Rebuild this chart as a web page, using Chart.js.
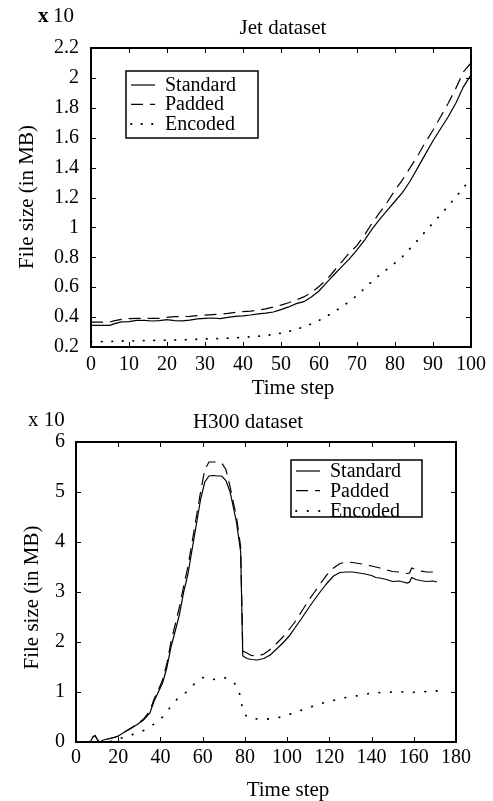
<!DOCTYPE html>
<html lang="en">
<head>
<meta charset="UTF-8">
<title>Jet and H300 file sizes</title>
<script src="https://cdn.jsdelivr.net/npm/chart.js"></script>
<style>
  body { margin: 0; background: #fff; }
  canvas { display: block; }
</style>
</head>
<body>
<canvas id="jetChart" width="493" height="400"></canvas>
<canvas id="h300Chart" width="493" height="401"></canvas>
<script>
const seriesNames = ['Standard', 'Padded', 'Encoded'];

// Jet dataset
const jetStep = [0, 2, 4, 5, 6, 8, 10, 12, 14, 16, 18, 20, 22, 24, 26, 28, 30, 32, 34, 36, 38, 40, 42, 44, 46, 48, 50,
  52, 54, 56, 58, 60, 62, 64, 66, 68, 70, 72, 74, 76, 78, 80, 82, 84, 86, 88, 90, 92, 94, 96, 98, 100];
const jetStandard = [0.345, 0.345, 0.345, 0.345, 0.355, 0.368, 0.370, 0.378, 0.378, 0.374, 0.376, 0.383, 0.376, 0.375,
  0.380, 0.388, 0.392, 0.394, 0.390, 0.398, 0.405, 0.408, 0.414, 0.422, 0.427, 0.434, 0.450, 0.468, 0.490, 0.503, 0.535,
  0.575, 0.630, 0.685, 0.738, 0.790, 0.850, 0.915, 0.990, 1.055, 1.115, 1.175, 1.235, 1.310, 1.400, 1.490, 1.580, 1.660,
  1.740, 1.830, 1.940, 2.020];
const jetPadded = [0.367, 0.367, 0.367, 0.367, 0.375, 0.385, 0.390, 0.392, 0.392, 0.392, 0.392, 0.398, 0.403, 0.403,
  0.405, 0.410, 0.413, 0.416, 0.420, 0.425, 0.432, 0.437, 0.440, 0.446, 0.455, 0.468, 0.480, 0.496, 0.515, 0.535, 0.565,
  0.605, 0.650, 0.710, 0.770, 0.830, 0.880, 0.950, 1.030, 1.100, 1.170, 1.250, 1.320, 1.400, 1.480, 1.570, 1.650, 1.740,
  1.830, 1.930, 2.040, 2.100];
const jetEncoded = [0.235, 0.236, 0.237, 0.238, 0.238, 0.240, 0.241, 0.242, 0.243, 0.244, 0.245, 0.246, 0.247, 0.248,
  0.250, 0.252, 0.254, 0.256, 0.257, 0.259, 0.261, 0.264, 0.268, 0.272, 0.277, 0.284, 0.292, 0.304, 0.318, 0.334, 0.355,
  0.378, 0.405, 0.436, 0.468, 0.505, 0.545, 0.592, 0.640, 0.682, 0.722, 0.762, 0.805, 0.860, 0.915, 0.973, 1.030, 1.085,
  1.143, 1.203, 1.265, 1.325];

// H300 dataset
const h300Step = [0, 5, 7, 8, 9, 10, 11, 13, 15, 18, 20, 23, 26, 29, 32, 35, 37, 39, 41, 43, 45, 47, 49, 51, 53, 55, 57,
  59, 61, 63, 65, 67, 69, 71, 73, 75, 76, 77, 78, 79, 81, 83, 86, 89, 92, 95, 98, 101, 104, 107, 110, 113, 116, 119, 122,
  125, 128, 131, 134, 137, 140, 142, 144, 147, 150, 153, 155, 157, 158, 159, 161, 163, 166, 169, 171];
const h300Standard = [0, 0, 0.02, 0.1, 0.13, 0.06, 0, 0.04, 0.06, 0.09, 0.12, 0.2, 0.27, 0.35, 0.44, 0.58, 0.82, 1.0,
  1.18, 1.48, 1.9, 2.22, 2.55, 3.0, 3.35, 3.85, 4.35, 4.85, 5.2, 5.32, 5.33, 5.32, 5.32, 5.23, 5.0, 4.6, 4.4, 4.1, 3.8,
  1.72, 1.67, 1.65, 1.64, 1.67, 1.74, 1.86, 1.98, 2.12, 2.3, 2.48, 2.67, 2.85, 3.02, 3.18, 3.32, 3.39, 3.4, 3.4, 3.38,
  3.36, 3.33, 3.29, 3.28, 3.25, 3.21, 3.22, 3.2, 3.18, 3.2, 3.29, 3.25, 3.23, 3.21, 3.22, 3.2];
const h300Padded = [0, 0, 0.02, 0.1, 0.13, 0.06, 0, 0.04, 0.06, 0.09, 0.12, 0.2, 0.28, 0.36, 0.46, 0.62, 0.86, 1.04,
  1.24, 1.56, 2.0, 2.35, 2.7, 3.12, 3.5, 4.0, 4.5, 5.0, 5.45, 5.6, 5.6, 5.6, 5.58, 5.45, 5.1, 4.7, 4.5, 4.2, 3.9,
  1.82, 1.78, 1.73, 1.72, 1.76, 1.85, 1.97, 2.1, 2.25, 2.42, 2.62, 2.82, 3.0, 3.18, 3.35, 3.48, 3.57, 3.6, 3.59, 3.57,
  3.55, 3.52, 3.5, 3.48, 3.44, 3.41, 3.4, 3.38, 3.37, 3.38, 3.48, 3.45, 3.42, 3.4, 3.4, 3.39];
const h300Encoded = [0, 0, 0, 0, 0, 0, 0, 0, 0, 0.03, 0.06, 0.1, 0.14, 0.18, 0.23, 0.31, 0.36, 0.43, 0.5, 0.6, 0.72,
  0.82, 0.9, 0.95, 1.03, 1.12, 1.2, 1.27, 1.3, 1.28, 1.25, 1.26, 1.29, 1.28, 1.25, 1.18, 1.12, 1.05, 0.88, 0.62, 0.5,
  0.47, 0.46, 0.46, 0.46, 0.48, 0.51, 0.55, 0.6, 0.64, 0.68, 0.73, 0.77, 0.8, 0.83, 0.87, 0.89, 0.91, 0.93, 0.96, 0.97,
  0.98, 0.99, 0.99, 1.0, 1.01, 1.0, 0.99, 0.99, 0.99, 1.0, 1.0, 1.01, 1.02, 1.02];

const serif = "'Liberation Serif', 'Times New Roman', serif";
Chart.defaults.font.family = serif;
Chart.defaults.color = '#000';

// heavy box round the plot with inward ticks on all four sides
const framePlugin = {
  id: 'frame',
  afterDraw(chart) {
    const { ctx, chartArea: a, scales } = chart;
    const len = 5;
    ctx.save();
    ctx.strokeStyle = '#000';
    ctx.lineWidth = 1;
    ctx.beginPath();
    scales.x.ticks.forEach(t => {
      const px = Math.round(scales.x.getPixelForValue(t.value)) + 0.5;
      ctx.moveTo(px, a.bottom); ctx.lineTo(px, a.bottom - len);
      ctx.moveTo(px, a.top); ctx.lineTo(px, a.top + len);
    });
    scales.y.ticks.forEach(t => {
      const py = Math.round(scales.y.getPixelForValue(t.value)) + 0.5;
      ctx.moveTo(a.left, py); ctx.lineTo(a.left + len, py);
      ctx.moveTo(a.right, py); ctx.lineTo(a.right - len, py);
    });
    ctx.stroke();
    ctx.lineWidth = 2;
    ctx.strokeRect(a.left, a.top, a.right - a.left, a.bottom - a.top);
    ctx.restore();
  }
};

// free text: titles, axis names, the "x 10" multiplier
const textPlugin = {
  id: 'texts',
  afterDraw(chart, args, opts) {
    const ctx = chart.ctx;
    (opts.items || []).forEach(it => {
      ctx.save();
      ctx.fillStyle = '#000';
      ctx.font = (it.bold ? 'bold ' : '') + it.size + 'px ' + serif;
      ctx.textAlign = it.align || 'center';
      ctx.textBaseline = it.baseline || 'alphabetic';
      ctx.translate(it.x, it.y);
      if (it.rotate) ctx.rotate(it.rotate);
      ctx.fillText(it.text, 0, 0);
      ctx.restore();
    });
  }
};

// boxed legend inside the plot, drawn from the datasets
const boxLegendPlugin = {
  id: 'boxLegend',
  afterDraw(chart, args, o) {
    const ctx = chart.ctx;
    ctx.save();
    ctx.fillStyle = '#fff';
    ctx.fillRect(o.x, o.y, o.w, o.h);
    ctx.strokeStyle = '#000';
    ctx.lineWidth = 1.5;
    ctx.strokeRect(o.x, o.y, o.w, o.h);
    chart.data.datasets.forEach((ds, i) => {
      const y = o.y + o.rows[i];
      ctx.beginPath();
      ctx.lineWidth = ds.borderWidth;
      ctx.lineCap = ds.borderCapStyle || 'butt';
      ctx.setLineDash(ds.borderDash || []);
      ctx.moveTo(o.x + 5, y);
      ctx.lineTo(o.x + 29, y);
      ctx.stroke();
      ctx.setLineDash([]);
      ctx.fillStyle = '#000';
      ctx.font = '20px ' + serif;
      ctx.textAlign = 'left';
      ctx.textBaseline = 'alphabetic';
      ctx.fillText(ds.label, o.x + 39, y + 6);
    });
    ctx.restore();
  }
};

function toPoints(xs, ys) {
  return xs.map((x, i) => ({ x: x, y: ys[i] }));
}

function buildChart(id, steps, std, pad, enc, opt) {
  const styles = [
    { borderWidth: 1.2 },
    { borderWidth: 1.2, borderDash: [12, 7] },
    { borderWidth: 1.8, borderDash: [0.5, opt.dotGap], borderCapStyle: 'round' }
  ];
  const datasets = [std, pad, enc].map((vals, i) => Object.assign({
    label: seriesNames[i],
    data: toPoints(steps, vals),
    borderColor: '#000',
    pointRadius: 0,
    tension: 0,
    fill: false
  }, styles[i]));

  return new Chart(document.getElementById(id), {
    type: 'line',
    data: { datasets: datasets },
    options: {
      responsive: false,
      animation: false,
      devicePixelRatio: 1,
      events: [],
      layout: { padding: opt.padding },
      scales: {
        x: {
          type: 'linear',
          min: opt.xMin, max: opt.xMax,
          ticks: { stepSize: opt.xStep, font: { size: 20 }, padding: opt.xPad, maxRotation: 0, autoSkip: false },
          grid: { display: false, drawTicks: false },
          border: { display: false },
          afterFit: s => { s.height = opt.xAxisH; }
        },
        y: {
          min: opt.yMin, max: opt.yMax,
          ticks: {
            stepSize: opt.yStep, font: { size: 20 }, padding: opt.yPad, autoSkip: false,
            callback: v => String(+v.toFixed(1))
          },
          grid: { display: false, drawTicks: false },
          border: { display: false },
          afterFit: s => { s.width = opt.yAxisW; }
        }
      },
      plugins: {
        legend: { display: false },
        tooltip: { enabled: false },
        texts: { items: opt.texts },
        boxLegend: opt.legend
      }
    },
    plugins: [framePlugin, textPlugin, boxLegendPlugin]
  });
}

buildChart('jetChart', jetStep, jetStandard, jetPadded, jetEncoded, {
  xMin: 0, xMax: 100, xStep: 10,
  yMin: 0.2, yMax: 2.2, yStep: 0.2,
  padding: { top: 48, right: 22, bottom: 0, left: 0 },
  yAxisW: 91, xAxisH: 53, xPad: 6, yPad: 12, dotGap: 10,
  legend: { x: 126, y: 71, w: 132, h: 67, rows: [14, 33.3, 53] },
  texts: [
    { text: 'x', x: 38, y: 22, size: 21, bold: true, align: 'left' },
    { text: '10', x: 53, y: 22, size: 21, align: 'left' },
    { text: 'Jet dataset', x: 283, y: 34, size: 21 },
    { text: 'Time step', x: 293, y: 394, size: 21 },
    { text: 'File size (in MB)', x: 27, y: 197, size: 21, rotate: -Math.PI / 2, baseline: 'middle' }
  ]
});

buildChart('h300Chart', h300Step, h300Standard, h300Padded, h300Encoded, {
  xMin: 0, xMax: 180, xStep: 20,
  yMin: 0, yMax: 6, yStep: 1,
  padding: { top: 42, right: 37, bottom: 0, left: 0 },
  yAxisW: 76, xAxisH: 59, xPad: 4, yPad: 11, dotGap: 11,
  legend: { x: 291, y: 60, w: 131, h: 57, rows: [11, 30.7, 51] },
  texts: [
    { text: 'x 10', x: 28, y: 26, size: 21, align: 'left' },
    { text: 'H300 dataset', x: 248, y: 28, size: 21 },
    { text: 'Time step', x: 288, y: 396, size: 21 },
    { text: 'File size (in MB)', x: 32, y: 197.5, size: 21, rotate: -Math.PI / 2, baseline: 'middle' }
  ]
});
</script>
</body>
</html>
